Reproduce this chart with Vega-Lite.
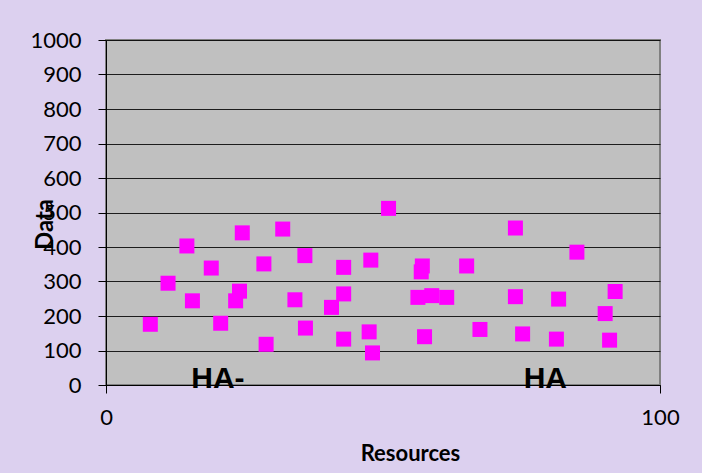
{
  "$schema": "https://vega.github.io/schema/vega-lite/v6.json",
  "width": 554,
  "height": 345,
  "autosize": {"type": "none"},
  "padding": {"left": 106, "top": 40, "right": 42, "bottom": 88},
  "background": "#dcd0ef",
  "config": {
    "view": {"fill": "#c0c0c0", "stroke": "#808080", "strokeWidth": 2},
    "font": "Lato"
  },
  "encoding": {
    "x": {
      "field": "resources",
      "type": "quantitative",
      "scale": {"domain": [0, 100], "nice": false},
      "axis": {
        "values": [0, 100],
        "format": "d",
        "grid": false,
        "domainColor": "#000000",
        "tickColor": "#000000",
        "tickSize": 8,
        "labelFont": "Lato",
        "labelFontSize": 22,
        "labelColor": "#000000",
        "labelPadding": 14,
        "labelFlush": false,
        "labelOverlap": false,
        "title": "Resources",
        "titleFont": "Lato",
        "titleFontSize": 22,
        "titleFontWeight": "bold",
        "titleColor": "#000000",
        "titleX": 304,
        "titleY": 68,
        "titleAlign": "center",
        "titleBaseline": "middle"
      }
    },
    "y": {
      "field": "data",
      "type": "quantitative",
      "scale": {"domain": [0, 1000], "nice": false},
      "axis": {
        "values": [0, 100, 200, 300, 400, 500, 600, 700, 800, 900, 1000],
        "tickCount": 20,
        "format": "d",
        "grid": true,
        "gridColor": "#000000",
        "gridWidth": 1,
        "gridOpacity": 0.85,
        "domainColor": "#000000",
        "tickColor": "#000000",
        "tickSize": 8,
        "labelFont": "Lato",
        "labelFontSize": 22,
        "labelColor": "#000000",
        "labelPadding": 17,
        "labelOverlap": false,
        "labelFlush": false,
        "title": "Data",
        "titleFont": "Lato",
        "titleFontSize": 24,
        "titleFontWeight": "bold",
        "titleColor": "#000000",
        "titleX": -61,
        "titleY": 184,
        "titleAngle": 270,
        "titleAlign": "center",
        "titleBaseline": "middle"
      }
    }
  },
  "layer": [
    {
      "data": {
        "values": [
          {"resources": 8.0, "data": 176},
          {"resources": 11.2, "data": 295},
          {"resources": 14.6, "data": 403},
          {"resources": 15.6, "data": 244},
          {"resources": 19.0, "data": 339},
          {"resources": 20.7, "data": 179},
          {"resources": 24.6, "data": 441},
          {"resources": 24.1, "data": 272},
          {"resources": 23.4, "data": 244},
          {"resources": 31.9, "data": 452},
          {"resources": 28.5, "data": 351},
          {"resources": 28.9, "data": 118},
          {"resources": 34.1, "data": 247},
          {"resources": 35.9, "data": 375},
          {"resources": 36.0, "data": 165},
          {"resources": 42.9, "data": 341},
          {"resources": 42.9, "data": 264},
          {"resources": 40.7, "data": 225},
          {"resources": 42.9, "data": 133},
          {"resources": 47.8, "data": 362},
          {"resources": 47.5, "data": 154},
          {"resources": 48.1, "data": 93},
          {"resources": 51.0, "data": 512},
          {"resources": 73.9, "data": 455},
          {"resources": 85.0, "data": 385},
          {"resources": 57.1, "data": 345},
          {"resources": 56.9, "data": 328},
          {"resources": 65.1, "data": 345},
          {"resources": 56.3, "data": 254},
          {"resources": 58.8, "data": 259},
          {"resources": 61.5, "data": 254},
          {"resources": 73.9, "data": 256},
          {"resources": 81.7, "data": 249},
          {"resources": 91.9, "data": 271},
          {"resources": 90.1, "data": 207},
          {"resources": 57.5, "data": 140},
          {"resources": 67.5, "data": 161},
          {"resources": 75.2, "data": 148},
          {"resources": 81.3, "data": 133},
          {"resources": 90.9, "data": 130}
        ]
      },
      "mark": {"type": "point", "shape": "square", "filled": true, "size": 225, "color": "#ff00ff", "opacity": 1}
    },
    {
      "data": {
        "values": [
          {"resources": 20.2, "data": 0, "label": "HA-"},
          {"resources": 79.3, "data": 0, "label": "HA"}
        ]
      },
      "mark": {"type": "text", "font": "Liberation Sans", "fontSize": 30, "fontWeight": "bold", "color": "#000000", "baseline": "alphabetic", "align": "center", "dy": 3},
      "encoding": {
        "text": {"field": "label"}
      }
    }
  ]
}
